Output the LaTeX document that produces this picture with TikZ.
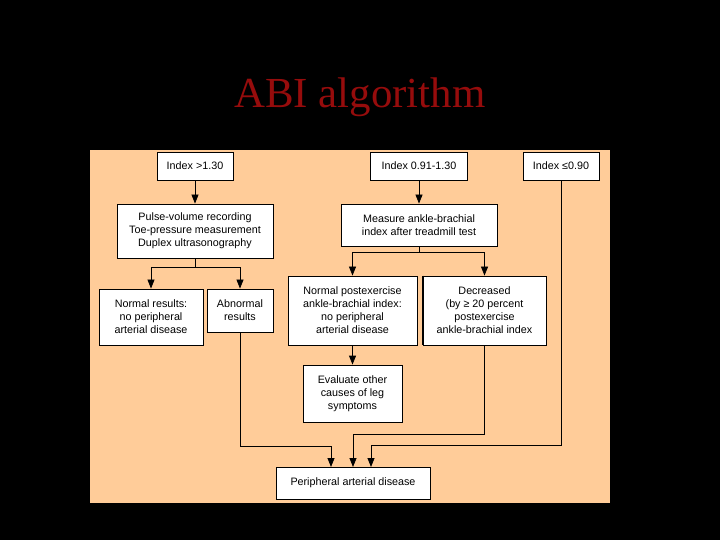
\documentclass[tikz,border=0pt]{standalone}
\usepackage{fontspec}
\setmainfont{Liberation Sans}
\newfontfamily\titlefont{Liberation Serif}
\usetikzlibrary{arrows.meta}
\definecolor{peach}{RGB}{255,204,153}
\definecolor{titlered}{RGB}{150,12,12}
\begin{document}
\begin{tikzpicture}[x=1bp,y=-1bp,
  box/.style={draw=black,line width=0.8bp,fill=white,align=center,inner sep=1bp,
    font=\fontsize{10.8}{13}\selectfont,anchor=center},
  conn/.style={draw=black,line width=0.8bp},
  arr/.style={conn,-{Triangle[width=7bp,length=9bp]}}]
\fill[black] (0,0) rectangle (720,540);
\useasboundingbox (0,0) rectangle (720,540);
\fill[peach] (90,150) rectangle (610,503);
\node[text=titlered,font=\titlefont\fontsize{43}{50}\selectfont,anchor=base] (title) at (360,108) {ABI algorithm};
\node[box,minimum width=76bp,minimum height=28bp] (i1) at (195,166) {Index >1.30};
\node[box,minimum width=97bp,minimum height=28bp] (i2) at (419,166) {Index 0.91-1.30};
\node[box,minimum width=76bp,minimum height=28bp] (i3) at (561,166) {Index ≤0.90};
\node[box,minimum width=156bp,minimum height=54bp] (pulse) at (195,231) {Pulse-volume recording\\Toe-pressure measurement\\Duplex ultrasonography};
\node[box,minimum width=156bp,minimum height=42bp] (meas) at (419,225) {Measure ankle-brachial\\index after treadmill test};
\node[box,minimum width=104bp,minimum height=56bp] (norm) at (151,317) {Normal results:\\no peripheral\\arterial disease};
\node[box,minimum width=66bp,minimum height=43bp] (abn) at (240,310.5) {Abnormal\\results};
\node[box,minimum width=129bp,minimum height=69bp] (npost) at (352.5,310.5) {Normal postexercise\\ankle-brachial index:\\no peripheral\\arterial disease};
\node[box,minimum width=123bp,minimum height=69bp] (dec) at (484.5,310.5) {Decreased\\(by ≥ 20 percent\\postexercise\\ankle-brachial index};
\draw[line width=1.8bp] ([xshift=0.5bp]dec.north west) -- ([xshift=0.5bp]dec.south west);
\node[box,minimum width=99bp,minimum height=57bp] (eval) at (352.5,393.5) {Evaluate other\\causes of leg\\symptoms};
\node[box,minimum width=154bp,minimum height=32bp] (pad) at (353,483) {Peripheral arterial disease};
% connectors
\draw[arr] (i1.south) -- (pulse.north);
\draw[arr] (i2.south) -- (meas.north);
\coordinate (s1) at (195,267);
\draw[conn] (pulse.south) -- (s1);
\draw[arr] (s1) -| (norm.north);
\draw[arr] (s1) -| (abn.north);
\coordinate (s2) at (419,252);
\draw[conn] (meas.south) -- (s2);
\draw[arr] (s2) -| (npost.north);
\draw[arr] (s2) -| (dec.north);
\draw[arr] (npost.south) -- (eval.north);
\coordinate (pa) at (331,467);
\coordinate (pb) at (353,467);
\coordinate (pc) at (371,467);
\draw[arr] (abn.south) |- (331,446) -- (pa);
\draw[arr] (dec.south) |- (353,434) -- (pb);
\draw[arr] (i3.south) |- (371,445) -- (pc);
\end{tikzpicture}
\end{document}
